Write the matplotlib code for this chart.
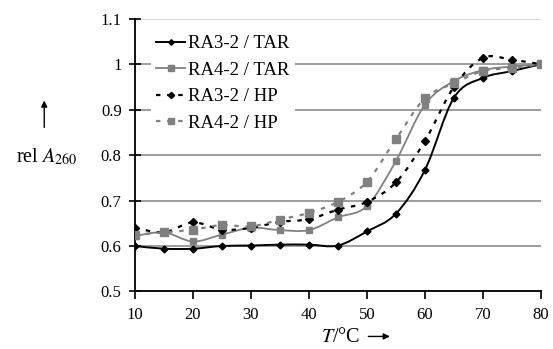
import matplotlib
matplotlib.use("Agg")
import matplotlib.pyplot as plt
from matplotlib.path import Path
from matplotlib.patches import PathPatch, FancyArrowPatch
import numpy as np

plt.rcParams['font.family'] = ['Liberation Serif', 'DejaVu Serif']
plt.rcParams['mathtext.fontset'] = 'stix'

temps = [10, 15, 20, 25, 30, 35, 40, 45, 50, 55, 60, 65, 70, 75, 80]
ra3_tar = [0.600, 0.594, 0.594, 0.600, 0.601, 0.603, 0.603, 0.601, 0.632, 0.671, 0.767, 0.926, 0.970, 0.985, 1.000]
ra4_tar = [0.622, 0.630, 0.610, 0.625, 0.640, 0.635, 0.635, 0.663, 0.688, 0.787, 0.911, 0.963, 0.987, 0.995, 1.000]
ra3_hp = [0.640, 0.630, 0.652, 0.636, 0.640, 0.653, 0.659, 0.680, 0.697, 0.740, 0.831, 0.950, 1.014, 1.010, 1.000]
ra4_hp = [0.625, 0.630, 0.636, 0.646, 0.643, 0.658, 0.673, 0.697, 0.741, 0.835, 0.925, 0.958, 0.985, 0.992, 1.000]

labels = ['RA3-2 / TAR', 'RA4-2 / TAR', 'RA3-2 / HP', 'RA4-2 / HP']
GRAY = '#808080'


def smooth_path(xs, ys, t=1/6):
    # Excel-like smoothed line: cubic Bezier through each point
    xs = np.asarray(xs, float)
    ys = np.asarray(ys, float)
    n = len(xs)
    verts = [(xs[0], ys[0])]
    codes = [Path.MOVETO]
    for i in range(n - 1):
        p0 = (xs[max(i - 1, 0)], ys[max(i - 1, 0)])
        p1 = (xs[i], ys[i])
        p2 = (xs[i + 1], ys[i + 1])
        p3 = (xs[min(i + 2, n - 1)], ys[min(i + 2, n - 1)])
        c1 = (p1[0] + (p2[0] - p0[0]) * t, p1[1] + (p2[1] - p0[1]) * t)
        c2 = (p2[0] - (p3[0] - p1[0]) * t, p2[1] - (p3[1] - p1[1]) * t)
        verts += [c1, c2, p2]
        codes += [Path.CURVE4] * 3
    return Path(verts, codes)


fig = plt.figure(figsize=(5.53, 3.49), dpi=100)
ax = fig.add_axes([0.244, 0.165, 0.734, 0.781])

styles = [
    (ra3_tar, 'k', '-', 'D', 3.5, 1.4),
    (ra4_tar, GRAY, '-', 's', 5, 1.3),
    (ra3_hp, 'k', (0, (2, 3)), 'D', 4, 1.6),
    (ra4_hp, GRAY, (0, (2, 3)), 's', 5.5, 1.6),
]

for (ys, c, ls, m, ms, lw), lab in zip(styles, labels):
    patch = PathPatch(smooth_path(temps, ys), facecolor='none', edgecolor=c,
                      linestyle=ls, linewidth=lw, zorder=3)
    ax.add_patch(patch)
    ax.plot(temps, ys, linestyle='none', marker=m, color=c, markersize=ms, zorder=4)
    # proxy for legend
    ax.plot([], [], linestyle=ls, color=c, marker=m, markersize=ms * 0.8, linewidth=lw, label=lab)

ax.set_xlim(10, 80)
ax.set_ylim(0.5, 1.1)
ax.set_xticks(range(10, 81, 10))
ax.set_yticks([0.5, 0.6, 0.7, 0.8, 0.9, 1.0, 1.1])
ax.set_yticklabels(['0.5', '0.6', '0.7', '0.8', '0.9', '1', '1.1'])
ax.yaxis.grid(True, color='#8c8c8c', linewidth=1.2)
ax.get_ygridlines()[-1].set_color('#d4d4d4')
ax.set_axisbelow(True)
for s in ['top', 'right']:
    ax.spines[s].set_visible(False)
ax.spines['left'].set_linewidth(1.3)
ax.spines['bottom'].set_linewidth(1.3)
ax.tick_params(axis='x', direction='out', length=6, width=1.2, labelsize=12, pad=5)
ax.tick_params(axis='y', direction='inout', length=9, width=1.2, labelsize=12, pad=5)

leg = ax.legend(loc='upper left', bbox_to_anchor=(0.03, 0.975), fontsize=13.5, frameon=True,
                handlelength=1.5, handletextpad=0.2, borderpad=0.3, labelspacing=0.5,
                borderaxespad=0.2)
leg.get_frame().set_facecolor('white')
leg.get_frame().set_edgecolor('none')
leg.get_frame().set_alpha(1)

# y label with arrow
fig.text(0.085, 0.55, 'rel $A_{260}$', fontsize=14.5, ha='center', va='center')
fig.patches.append(FancyArrowPatch(
    (0.08, 0.627), (0.08, 0.72), transform=fig.transFigure, arrowstyle='-|>',
    mutation_scale=9, color='k', linewidth=1.0))

# x label with arrow
fig.text(0.652, 0.033, '$T$/°C', fontsize=14.5, ha='right', va='center')
fig.patches.append(FancyArrowPatch(
    (0.661, 0.036), (0.71, 0.036), transform=fig.transFigure, arrowstyle='-|>',
    mutation_scale=9, color='k', linewidth=1.0))

fig.savefig('out.png', dpi=100)
